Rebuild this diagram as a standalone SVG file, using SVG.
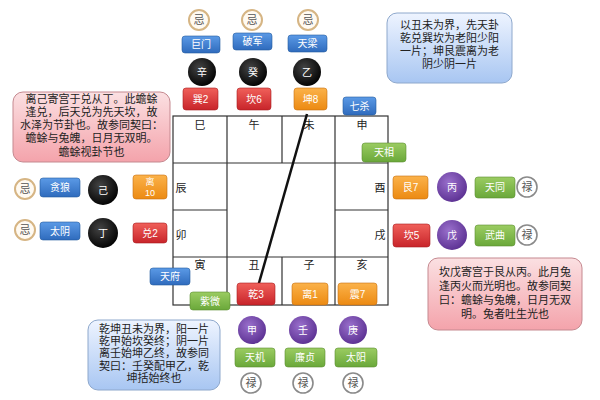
<svg xmlns="http://www.w3.org/2000/svg" width="600" height="400" viewBox="0 0 600 400">
<defs>
<linearGradient id="gRed" x1="0" y1="0" x2="0" y2="1"><stop offset="0" stop-color="#f0605a"/><stop offset="1" stop-color="#c8242a"/></linearGradient>
<linearGradient id="gOrg" x1="0" y1="0" x2="0" y2="1"><stop offset="0" stop-color="#fbb24a"/><stop offset="1" stop-color="#ec8a12"/></linearGradient>
<linearGradient id="gBlu" x1="0" y1="0" x2="0" y2="1"><stop offset="0" stop-color="#5b9ae6"/><stop offset="1" stop-color="#2f6bbd"/></linearGradient>
<linearGradient id="gGrn" x1="0" y1="0" x2="0" y2="1"><stop offset="0" stop-color="#9bcc62"/><stop offset="1" stop-color="#6aa83a"/></linearGradient>
<radialGradient id="gBlk" cx="0.4" cy="0.35" r="0.7"><stop offset="0" stop-color="#444"/><stop offset="1" stop-color="#000"/></radialGradient>
<radialGradient id="gPur" cx="0.4" cy="0.35" r="0.7"><stop offset="0" stop-color="#9a70cc"/><stop offset="1" stop-color="#5a2f91"/></radialGradient>
<linearGradient id="gPink" x1="0" y1="0" x2="0" y2="1"><stop offset="0" stop-color="#fbe0e2"/><stop offset="1" stop-color="#f4a3ab"/></linearGradient>
<linearGradient id="gNote" x1="0" y1="0" x2="0" y2="1"><stop offset="0" stop-color="#eef4ff"/><stop offset="1" stop-color="#a8c6f2"/></linearGradient>
</defs>
<style>
text{font-family:"Liberation Sans","Noto Sans CJK SC",sans-serif;}
.grid{fill:none;stroke:#333;stroke-width:1.2;}
.br{font-size:11px;fill:#222;text-anchor:middle;}
.bt{font-size:10px;fill:#fff;text-anchor:middle;}
.red{fill:url(#gRed);stroke:#a81c20;stroke-width:0.6;}
.org{fill:url(#gOrg);stroke:#c87010;stroke-width:0.6;}
.blu{fill:url(#gBlu);stroke:#245a9e;stroke-width:0.6;}
.grn{fill:url(#gGrn);stroke:#5a8f30;stroke-width:0.6;}
.blk{fill:url(#gBlk);}
.pur{fill:url(#gPur);}
.ji{fill:#fffaf2;stroke:#d6b584;stroke-width:2;}
.lu{fill:#fff;stroke:#8a8a8a;stroke-width:1.6;}
.ct{font-size:11px;fill:#555;text-anchor:middle;}
.pink{fill:url(#gPink);stroke:#c58990;stroke-width:1;}
.note{fill:url(#gNote);stroke:#8ea8cc;stroke-width:1;}
.nt{font-size:11px;fill:#222;text-anchor:middle;}
</style>
<rect width="600" height="400" fill="#fff"/>

<g id="grid">
<rect class="grid" x="173" y="116" width="215" height="189"/>
<path class="grid" d="M227 116V305M335 116V305M282 116V163M282 257V305M173 163H388M173 257H388M173 210H227M335 210H388"/>
<text class="br" x="200" y="129">巳</text>
<text class="br" x="254" y="129">午</text>
<text class="br" x="309" y="129">未</text>
<text class="br" x="362" y="129">申</text>
<text class="br" x="181" y="192">辰</text>
<text class="br" x="181" y="239">卯</text>
<text class="br" x="380" y="192">酉</text>
<text class="br" x="380" y="239">戌</text>
<text class="br" x="200" y="269">寅</text>
<text class="br" x="254" y="269">丑</text>
<text class="br" x="309" y="269">子</text>
<text class="br" x="362" y="269">亥</text>
</g>

<g id="connectors">
<line x1="307" y1="114" x2="257" y2="290" stroke="#111" stroke-width="2.5"/>
</g>

<!-- top column -->
<g id="ji-top1"><circle class="ji" cx="199" cy="20" r="10"/><text class="ct" x="199" y="24">忌</text></g>
<g id="ji-top2"><circle class="ji" cx="252" cy="20" r="10"/><text class="ct" x="252" y="24">忌</text></g>
<g id="ji-top3"><circle class="ji" cx="308" cy="20" r="10"/><text class="ct" x="308" y="24">忌</text></g>
<g id="jumen"><rect class="blu" x="182" y="36" width="38" height="17" rx="3"/><text class="bt" x="201" y="48">巨门</text></g>
<g id="pojun"><rect class="blu" x="233" y="33" width="39" height="17" rx="3"/><text class="bt" x="252.5" y="45">破军</text></g>
<g id="tianliang"><rect class="blu" x="288" y="35" width="39" height="17" rx="3"/><text class="bt" x="307.5" y="47">天梁</text></g>
<g id="xin"><circle class="blk" cx="202" cy="72" r="14"/><text class="bt" x="202" y="76">辛</text></g>
<g id="gui"><circle class="blk" cx="253" cy="72" r="14"/><text class="bt" x="253" y="76">癸</text></g>
<g id="yi"><circle class="blk" cx="307" cy="72" r="14"/><text class="bt" x="307" y="76">乙</text></g>
<g id="xun2"><rect class="red" x="183" y="88" width="35" height="22" rx="3"/><text class="bt" x="200.5" y="103">巽2</text></g>
<g id="kan6"><rect class="red" x="237" y="88" width="34" height="22" rx="3"/><text class="bt" x="254" y="103">坎6</text></g>
<g id="kun8"><rect class="org" x="294" y="88" width="33" height="22" rx="3"/><text class="bt" x="310.5" y="103">坤8</text></g>
<g id="qisha"><rect class="blu" x="343" y="97" width="33" height="18" rx="3"/><text class="bt" x="359.5" y="110">七杀</text></g>
<g id="tianxiang"><rect class="grn" x="362" y="143" width="44" height="19" rx="3"/><text class="bt" x="384" y="156">天相</text></g>

<!-- left side -->
<g id="ji-left1"><circle class="ji" cx="25" cy="189" r="10"/><text class="ct" x="25" y="193">忌</text></g>
<g id="tanlang"><rect class="blu" x="40" y="178" width="40" height="19" rx="3"/><text class="bt" x="60" y="191">贪狼</text></g>
<g id="ji"><circle class="blk" cx="103" cy="190" r="15"/><text class="bt" x="103" y="194">己</text></g>
<g id="li10"><rect class="org" x="133" y="175" width="34" height="24" rx="3"/><text class="bt" x="150" y="185" style="font-size:9px">离</text><text class="bt" x="150" y="196" style="font-size:9px">10</text></g>
<g id="ji-left2"><circle class="ji" cx="25" cy="230" r="10"/><text class="ct" x="25" y="234">忌</text></g>
<g id="taiyin"><rect class="blu" x="40" y="222" width="40" height="18" rx="3"/><text class="bt" x="60" y="235">太阴</text></g>
<g id="ding"><circle class="blk" cx="103" cy="233" r="15"/><text class="bt" x="103" y="237">丁</text></g>
<g id="dui2"><rect class="red" x="133" y="223" width="34" height="20" rx="3"/><text class="bt" x="150" y="237">兑2</text></g>

<!-- right side -->
<g id="gen7"><rect class="org" x="393" y="176" width="35" height="23" rx="3"/><text class="bt" x="410.5" y="191">艮7</text></g>
<g id="bing"><circle class="pur" cx="452" cy="187" r="15"/><text class="bt" x="452" y="191">丙</text></g>
<g id="tiantong"><rect class="grn" x="475" y="177" width="40" height="21" rx="3"/><text class="bt" x="495" y="191">天同</text></g>
<g id="lu-r1"><circle class="lu" cx="527" cy="187" r="10"/><text class="ct" x="527" y="191">禄</text></g>
<g id="kan5"><rect class="red" x="393" y="224" width="37" height="23" rx="3"/><text class="bt" x="411.5" y="239">坎5</text></g>
<g id="wu"><circle class="pur" cx="452" cy="235" r="15"/><text class="bt" x="452" y="239">戊</text></g>
<g id="wuqu"><rect class="grn" x="475" y="225" width="40" height="21" rx="3"/><text class="bt" x="495" y="239">武曲</text></g>
<g id="lu-r2"><circle class="lu" cx="527" cy="235" r="10"/><text class="ct" x="527" y="239">禄</text></g>

<!-- bottom -->
<g id="tianfu"><rect class="blu" x="150" y="268" width="40" height="17" rx="3"/><text class="bt" x="170" y="280">天府</text></g>
<g id="ziwei"><rect class="grn" x="190" y="292" width="40" height="18" rx="3"/><text class="bt" x="210" y="305">紫微</text></g>
<g id="qian3"><rect class="red" x="237" y="283" width="38" height="22" rx="3"/><text class="bt" x="256" y="298">乾3</text></g>
<g id="li1"><rect class="org" x="292" y="283" width="36" height="22" rx="3"/><text class="bt" x="310" y="298">离1</text></g>
<g id="zhen7"><rect class="org" x="338" y="283" width="39" height="22" rx="3"/><text class="bt" x="357.5" y="298">震7</text></g>
<g id="jia"><circle class="pur" cx="252" cy="330" r="14"/><text class="bt" x="252" y="334">甲</text></g>
<g id="ren"><circle class="pur" cx="303" cy="330" r="14"/><text class="bt" x="303" y="334">壬</text></g>
<g id="geng"><circle class="pur" cx="353" cy="330" r="14"/><text class="bt" x="353" y="334">庚</text></g>
<g id="tianji"><rect class="grn" x="235" y="348" width="40" height="19" rx="3"/><text class="bt" x="255" y="361">天机</text></g>
<g id="lianzhen"><rect class="grn" x="285" y="348" width="40" height="19" rx="3"/><text class="bt" x="305" y="361">廉贞</text></g>
<g id="taiyang"><rect class="grn" x="335" y="348" width="42" height="19" rx="3"/><text class="bt" x="356" y="361">太阳</text></g>
<g id="lu-b1"><circle class="lu" cx="251" cy="383" r="10"/><text class="ct" x="251" y="387">禄</text></g>
<g id="lu-b2"><circle class="lu" cx="303" cy="383" r="10"/><text class="ct" x="303" y="387">禄</text></g>
<g id="lu-b3"><circle class="lu" cx="353" cy="383" r="10"/><text class="ct" x="353" y="387">禄</text></g>

<!-- notes -->
<g id="note-tr"><rect class="note" x="387" y="13" width="125" height="70" rx="10"/>
<text class="nt" x="449.5" y="29">以丑未为界，先天卦</text>
<text class="nt" x="449.5" y="42">乾兑巽坎为老阳少阳</text>
<text class="nt" x="449.5" y="55">一片；坤艮震离为老</text>
<text class="nt" x="449.5" y="68">阴少阴一片</text></g>
<g id="note-tl"><rect class="pink" x="13" y="92" width="157" height="70" rx="10"/>
<text class="nt" x="91.5" y="103">离己寄宫于兑从丁。此蟾蜍</text>
<text class="nt" x="91.5" y="116">逢兑，后天兑为先天坎，故</text>
<text class="nt" x="91.5" y="129">水泽为节卦也。故参同契曰：</text>
<text class="nt" x="91.5" y="142">蟾蜍与兔魄，日月无双明。</text>
<text class="nt" x="91.5" y="156">蟾蜍视卦节也</text></g>
<g id="note-br"><rect class="pink" x="428" y="258" width="154" height="72" rx="10"/>
<text class="nt" x="505" y="276">坎戊寄宫于艮从丙。此月兔</text>
<text class="nt" x="505" y="290">逢丙火而光明也。故参同契</text>
<text class="nt" x="505" y="304">曰：蟾蜍与兔魄，日月无双</text>
<text class="nt" x="505" y="318">明。兔者吐生光也</text></g>
<g id="note-bl"><rect class="note" x="88" y="320" width="132" height="70" rx="10"/>
<text class="nt" x="154" y="333">乾坤丑未为界，阳一片</text>
<text class="nt" x="154" y="345">乾甲始坎癸终；阴一片</text>
<text class="nt" x="154" y="357">离壬始坤乙终，故参同</text>
<text class="nt" x="154" y="370">契曰：壬癸配甲乙，乾</text>
<text class="nt" x="154" y="382">坤括始终也</text></g>
</svg>
